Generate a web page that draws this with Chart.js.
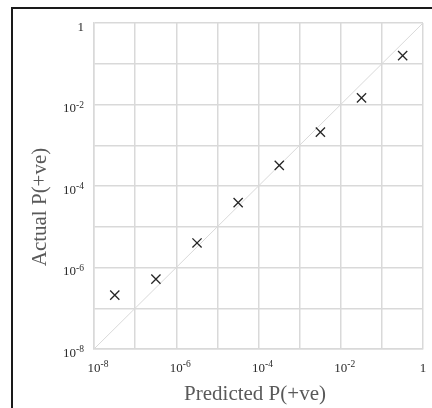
<!DOCTYPE html>
<html lang="en">
<head>
    <meta charset="UTF-8">
    <script src="https://cdn.jsdelivr.net/npm/chart.js@4.4.0/dist/chart.umd.min.js"></script>
    <title>Predicted vs Actual</title>
    <style>
        body { margin: 0; background: #fff; }
        #wrap { position: relative; width: 432px; height: 408px; }
        #frame { position: absolute; left: 11px; top: 7px; right: 0; bottom: 0;
                 border-left: 2px solid #1a1a1a; border-top: 2px solid #1a1a1a; }
        canvas { position: absolute; left: 0; top: 0; }
    </style>
</head>
<body>
<div id="wrap">
    <div id="frame"></div>
    <canvas id="chart-area" width="432" height="408"></canvas>
</div>
<script>
    // predicted vs actual probability, one point per bin
    var predicted = [3.2e-8, 3.2e-7, 3.2e-6, 3.2e-5, 3.2e-4, 3.2e-3, 3.2e-2, 0.32];
    var actual    = [2.1e-7, 5.2e-7, 4.0e-6, 3.9e-5, 3.2e-4, 2.1e-3, 1.45e-2, 0.158];
    var diagonal  = [1e-8, 1];
    var exponents = [-8, -7, -6, -5, -4, -3, -2, -1, 0];

    var serif = "'Liberation Serif', 'Times New Roman', serif";

    function decadeTicks(scale) {
        scale.ticks = exponents.map(e => ({ value: Math.pow(10, e) }));
    }

    var points = predicted.map((p, i) => ({ x: p, y: actual[i] }));

    // draws "10" with a raised exponent, like the spreadsheet labels
    function powerLabel(ctx, e, x, baseline, align) {
        var base = e === 0 ? '1' : '10';
        var exp = e === 0 ? '' : '-' + (-e);
        ctx.font = '13px ' + serif;
        var wb = ctx.measureText(base).width;
        ctx.font = '9.5px ' + serif;
        var we = exp ? ctx.measureText(exp).width : 0;
        var left = align === 'right' ? x - wb - we : x - wb / 2;
        ctx.font = '13px ' + serif;
        ctx.fillText(base, left, baseline);
        if (exp) {
            ctx.font = '9.5px ' + serif;
            ctx.fillText(exp, left + wb, baseline - 4.5);
        }
    }

    var labels = {
        id: 'labels',
        afterDraw(chart) {
            var ctx = chart.ctx;
            var sx = chart.scales.x, sy = chart.scales.y;
            ctx.save();
            ctx.fillStyle = '#2b2b2b';
            ctx.textAlign = 'left';
            ctx.textBaseline = 'alphabetic';
            sx.ticks.forEach(t => {
                var e = Math.round(Math.log10(t.value));
                if (e % 2 === 0) powerLabel(ctx, e, sx.getPixelForValue(t.value), 371.5, 'center');
            });
            sy.ticks.forEach(t => {
                var e = Math.round(Math.log10(t.value));
                if (e % 2 === 0) powerLabel(ctx, e, 84, sy.getPixelForValue(t.value) + 7.5, 'right');
            });

            ctx.fillStyle = '#595959';
            ctx.font = '21px ' + serif;
            ctx.textAlign = 'center';
            ctx.textBaseline = 'middle';
            ctx.fillText('Predicted P(+ve)', 255, 394);
            ctx.translate(40, 207);
            ctx.rotate(-Math.PI / 2);
            ctx.fillText('Actual P(+ve)', 0, 0);
            ctx.restore();
        }
    };

    var config = {
        type: 'scatter',
        data: {
            datasets: [{
                data: points,
                pointStyle: 'crossRot',
                pointRadius: 6.5,
                pointHoverRadius: 6.5,
                borderColor: '#262626',
                borderWidth: 1.3,
                order: 1
            }, {
                type: 'line',
                data: diagonal.map(v => ({ x: v, y: v })),
                borderColor: '#d9d9d9',
                borderWidth: 1,
                pointRadius: 0,
                order: 2
            }]
        },
        options: {
            responsive: false,
            animation: false,
            layout: { padding: { top: 23, right: 9, left: 0, bottom: 0 } },
            plugins: { legend: { display: false }, tooltip: { enabled: false } },
            scales: {
                x: {
                    type: 'logarithmic',
                    min: 1e-8, max: 1,
                    afterBuildTicks: decadeTicks,
                    afterFit(scale) { scale.height = 59; },
                    grid: { color: '#d9d9d9', lineWidth: 1.5, drawTicks: false },
                    border: { color: '#d9d9d9', width: 1.5 },
                    ticks: { display: false }
                },
                y: {
                    type: 'logarithmic',
                    min: 1e-8, max: 1,
                    afterBuildTicks: decadeTicks,
                    afterFit(scale) { scale.width = 94; },
                    grid: { color: '#d9d9d9', lineWidth: 1.5, drawTicks: false },
                    border: { color: '#d9d9d9', width: 1.5 },
                    ticks: { display: false }
                }
            }
        },
        plugins: [labels]
    };

    new Chart(document.getElementById('chart-area').getContext('2d'), config);
</script>
</body>
</html>
